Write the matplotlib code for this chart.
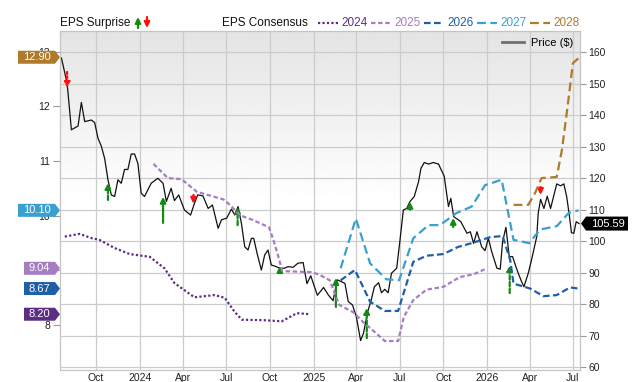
import matplotlib
matplotlib.use("Agg")
import matplotlib.pyplot as plt
import matplotlib.transforms as mtransforms
import numpy as np
import pandas as pd
from matplotlib.patches import Polygon, FancyArrowPatch
from matplotlib.lines import Line2D
from matplotlib.text import Text

plt.rcParams['font.family'] = ['Liberation Sans', 'DejaVu Sans']

# ---- price (right axis) ----
price_dates = ["2023-07-20", "2023-08-01", "2023-08-10", "2023-08-24", "2023-08-31", "2023-09-07",
               "2023-09-21", "2023-09-28", "2023-10-05", "2023-10-12", "2023-10-19", "2023-10-26",
               "2023-11-02", "2023-11-09", "2023-11-16", "2023-11-23", "2023-11-30", "2023-12-07",
               "2023-12-14", "2023-12-21", "2023-12-28", "2024-01-04", "2024-01-11", "2024-01-25",
               "2024-02-08", "2024-02-19", "2024-02-26", "2024-03-07", "2024-03-14", "2024-03-23",
               "2024-04-04", "2024-04-17", "2024-04-25", "2024-05-02", "2024-05-13", "2024-05-24",
               "2024-06-02", "2024-06-14", "2024-06-21", "2024-07-02", "2024-07-12", "2024-07-19",
               "2024-07-26", "2024-08-02", "2024-08-09", "2024-08-16", "2024-08-23", "2024-08-28",
               "2024-09-04", "2024-09-13", "2024-09-20", "2024-09-27", "2024-10-04", "2024-10-11",
               "2024-10-22", "2024-11-01", "2024-11-08", "2024-11-19", "2024-11-29", "2024-12-10",
               "2024-12-18", "2024-12-26", "2025-01-09", "2025-01-22", "2025-02-01", "2025-02-11",
               "2025-02-20", "2025-03-01", "2025-03-08", "2025-03-15", "2025-03-24", "2025-04-01",
               "2025-04-10", "2025-04-16", "2025-04-25", "2025-05-02", "2025-05-09", "2025-05-18",
               "2025-05-24", "2025-05-31", "2025-06-07", "2025-06-14", "2025-06-25", "2025-07-02",
               "2025-07-09", "2025-07-16", "2025-07-23", "2025-08-01", "2025-08-10", "2025-08-15",
               "2025-08-22", "2025-08-31", "2025-09-10", "2025-09-21", "2025-10-03", "2025-10-12",
               "2025-10-17", "2025-10-23", "2025-11-07", "2025-11-20", "2025-11-27", "2025-12-04",
               "2025-12-11", "2025-12-21", "2025-12-28", "2026-01-04", "2026-01-11", "2026-01-22",
               "2026-01-29", "2026-02-03", "2026-02-10", "2026-02-17", "2026-02-24", "2026-03-03",
               "2026-03-08", "2026-03-15", "2026-03-20", "2026-03-29", "2026-04-05", "2026-04-16",
               "2026-04-19", "2026-04-24", "2026-05-01", "2026-05-08", "2026-05-15", "2026-05-28",
               "2026-06-05", "2026-06-12", "2026-06-18", "2026-06-23", "2026-06-28", "2026-07-03",
               "2026-07-08", "2026-07-14"]
price_vals = [158.2, 150.2, 135.4, 136.6, 144.1, 138.0,
              138.5, 137.7, 132.7, 130.2, 126.3, 119.5,
              114.7, 114.2, 119.5, 118.4, 122.8, 122.8,
              127.7, 127.7, 124.7, 115.2, 114.2, 118.4,
              120.0, 118.4, 112.6, 116.8, 112.9, 114.7,
              109.9, 108.3, 112.0, 114.7, 114.4, 110.4,
              111.5, 104.1, 106.8, 107.3, 110.2, 108.3,
              111.0, 105.7, 98.2, 97.2, 100.9, 100.9,
              96.1, 90.8, 95.6, 97.2, 92.4, 92.1,
              91.4, 91.4, 91.9, 91.7, 93.0, 93.2,
              86.5, 89.0, 82.8, 85.3, 82.9, 81.1,
              87.7, 87.1, 86.6, 80.8, 79.7, 76.0,
              68.4, 70.7, 77.6, 81.1, 85.5, 86.8,
              83.6, 84.7, 83.6, 89.8, 91.4, 100.4,
              109.9, 110.4, 112.6, 114.2, 118.9, 123.1,
              125.0, 124.5, 125.0, 124.5, 120.7, 111.0,
              113.6, 107.8, 106.2, 102.5, 103.0, 99.3,
              103.0, 98.2, 97.0, 100.9, 96.7, 91.4,
              91.1, 99.8, 104.4, 95.1, 95.1, 91.9,
              89.8, 87.1, 85.5, 89.8, 94.1, 101.5,
              108.9, 113.3, 110.4, 114.3, 110.4, 118.2,
              117.6, 118.2, 114.1, 108.8, 102.7, 102.5,
              106.2, 105.59]
last_price = "105.59"

# ---- EPS consensus (left axis) ----
c2024_dates = ["2023-07-27", "2023-08-27", "2023-09-22", "2023-10-08", "2023-11-09", "2023-12-11",
               "2024-01-22", "2024-02-22", "2024-03-14", "2024-04-25", "2024-06-07", "2024-06-28",
               "2024-07-19", "2024-08-03", "2024-09-20", "2024-10-26", "2024-11-12", "2024-11-27",
               "2024-12-24"]
c2024_vals = [9.62, 9.67, 9.59, 9.56, 9.41, 9.30, 9.25, 9.04, 8.77, 8.51, 8.55, 8.50,
              8.24, 8.10, 8.09, 8.07, 8.15, 8.22, 8.20]

c2025_dates = ["2024-01-30", "2024-02-29", "2024-03-29", "2024-04-30", "2024-05-24", "2024-06-25",
               "2024-07-09", "2024-07-30", "2024-08-27", "2024-09-29", "2024-10-08", "2024-10-18",
               "2024-10-27", "2024-11-26", "2024-12-28", "2025-01-14", "2025-02-04", "2025-02-24",
               "2025-03-25", "2025-04-15", "2025-05-13", "2025-05-31", "2025-06-28", "2025-07-10",
               "2025-07-30", "2025-08-27", "2025-10-01", "2025-11-05", "2025-12-04", "2026-01-01"]
c2025_vals = [10.95, 10.69, 10.67, 10.44, 10.38, 10.30, 10.20, 10.01, 9.92, 9.79, 9.57, 9.28,
              8.99, 8.98, 8.97, 8.92, 8.82, 8.37, 8.24, 8.06, 7.85, 7.71, 7.71, 8.15,
              8.46, 8.65, 8.70, 8.88, 8.93, 9.04]

c2026_dates = ["2025-02-27", "2025-03-29", "2025-04-30", "2025-05-31", "2025-06-28", "2025-07-30",
               "2025-08-27", "2025-10-01", "2025-11-01", "2025-12-04", "2026-01-08", "2026-02-03",
               "2026-02-19", "2026-02-26", "2026-04-02", "2026-04-30", "2026-05-28", "2026-06-25",
               "2026-07-13"]
c2026_vals = [8.82, 9.01, 8.43, 8.26, 8.26, 9.16, 9.27, 9.30, 9.43, 9.51, 9.61, 9.63,
              9.19, 8.76, 8.67, 8.53, 8.55, 8.69, 8.67]

c2027_dates = ["2025-02-27", "2025-03-31", "2025-04-30", "2025-06-03", "2025-06-30", "2025-07-30",
               "2025-08-31", "2025-09-24", "2025-10-29", "2025-11-30", "2025-12-28", "2026-02-01",
               "2026-02-26", "2026-03-31", "2026-04-23", "2026-05-28", "2026-06-22", "2026-07-13"]
c2027_vals = [9.04, 9.95, 9.13, 8.84, 8.82, 9.59, 9.83, 9.83, 10.05, 10.17, 10.56, 10.66,
              9.56, 9.50, 9.75, 9.81, 10.05, 10.10]

c2028_dates = ["2026-02-26", "2026-03-29", "2026-04-12", "2026-04-26", "2026-05-28", "2026-06-08",
               "2026-06-19", "2026-07-01", "2026-07-15"]
c2028_vals = [10.20, 10.20, 10.41, 10.69, 10.71, 11.21, 11.94, 12.79, 12.90]

years = ["2024", "2025", "2026", "2027", "2028"]
year_colors = ["#5c2d82", "#a67dc1", "#1f5fa8", "#3aa0d0", "#b07a2a"]
year_styles = [(0, (1, 1)), (0, (2, 1.2)), (0, (3, 1.5)), (0, (4, 2)), (0, (4, 2))]
year_last = ["8.20", "9.04", "8.67", "10.10", "12.90"]

# ---- EPS surprise arrows (price axis): date, beat?, start, end, shaft style ----
surp_dates = ["2023-08-01", "2023-10-26", "2024-02-19", "2024-04-23", "2024-07-25", "2024-10-22",
              "2025-02-17", "2025-04-23", "2025-07-23", "2025-10-22", "2026-02-18", "2026-04-24"]
surp_beat = [False, True, True, False, True, True, True, True, True, True, True, False]
surp_start = [153.8, 113.1, 105.8, 114.7, 105.1, 89.9, 79.1, 69.2, 110.0, 104.5, 83.5, 117.2]
surp_end = [148.7, 118.5, 114.1, 111.9, 110.9, 92.1, 88.3, 78.8, 112.5, 107.4, 92.4, 114.7]
surp_dashed = [True, True, False, False, True, False, False, True, False, False, True, False]

xtick_dates = ["2023-10-01", "2024-01-01", "2024-04-01", "2024-07-01", "2024-10-01", "2025-01-01",
               "2025-04-01", "2025-07-01", "2025-10-01", "2026-01-01", "2026-04-01", "2026-07-01"]
xtick_labels = ["Oct", "2024", "Apr", "Jul", "Oct", "2025", "Apr", "Jul", "Oct", "2026", "Apr", "Jul"]
price_ticks = list(range(60, 161, 10))
eps_ticks = [8, 9, 10, 11, 12, 13]

GREEN, RED, GRID, FRAME = "#138a13", "#ff1010", "#cccccc", "#c4c4c4"

W, H = 640, 382
fig = plt.figure(figsize=(W / 100, H / 100), dpi=100)
axP = fig.add_axes([60 / W, 12 / H, 520 / W, 339 / H])
axE = axP.twinx()

# background gradient (gray at top -> white)
t = np.linspace(0, 1, 300)[:, None]
grad = np.clip(0.893 + 0.107 * t / 0.5, 0, 1)
axP.imshow(grad, extent=(0, 1, 0, 1), transform=axP.transAxes, aspect="auto",
           cmap="gray", vmin=0, vmax=1, zorder=0, interpolation="bilinear")

dt = pd.to_datetime
axP.plot(dt(price_dates), price_vals, color="#111111", lw=0.9, zorder=3)

for d, beat, a, b, dash in zip(surp_dates, surp_beat, surp_start, surp_end, surp_dashed):
    col = GREEN if beat else RED
    ls = (0, (2, 1)) if dash else "-"
    if d == "2023-08-01":
        ls = (0, (1, 1))
    axP.annotate("", xy=(dt(d), b), xytext=(dt(d), a),
                 arrowprops=dict(arrowstyle="-|>", color=col, lw=1.6, linestyle=ls,
                                 mutation_scale=8, shrinkA=0, shrinkB=0), zorder=6)

series = [(c2024_dates, c2024_vals), (c2025_dates, c2025_vals), (c2026_dates, c2026_vals),
          (c2027_dates, c2027_vals), (c2028_dates, c2028_vals)]
for (ds, vs), col, ls in zip(series, year_colors, year_styles):
    axE.plot(dt(ds), vs, color=col, lw=1.6, linestyle=ls, zorder=4)

axP.set_xlim(dt("2023-07-17"), dt("2026-07-16"))
axP.set_ylim(59.05, 166.8)
axE.set_ylim(7.18, 13.38)

axP.set_xticks(dt(xtick_dates))
axP.set_xticklabels(xtick_labels)
axP.set_yticks(price_ticks)
axE.set_yticks(eps_ticks)
axP.grid(True, color=GRID, lw=0.9)
axE.grid(False)

axP.yaxis.tick_right()
axE.yaxis.tick_left()
axP.tick_params(axis="x", length=0, pad=2.5, labelsize=7.5, labelcolor="#222222")
axP.tick_params(axis="y", length=4.5, color="#999999", pad=1.5, labelsize=7.5, labelcolor="#222222")
axE.tick_params(axis="y", length=5, color="#999999", pad=2, labelsize=7.5, labelcolor="#222222")
for ax in (axP, axE):
    for s in ax.spines.values():
        s.set_color(FRAME)

axP.legend(handles=[Line2D([], [], color="#707070", lw=2)], labels=["Price ($)"], loc="upper right",
           frameon=False, fontsize=8, handlelength=2.0, handletextpad=0.6, borderaxespad=0.25)

# value tags on the left axis
blendE = mtransforms.blended_transform_factory(axE.transAxes, axE.transData)
for val, lab, col in zip([float(v) for v in year_last], year_last, year_colors):
    w = len(lab) * 6 + 7
    T = fig.dpi_scale_trans + mtransforms.ScaledTranslation(0, val, blendE)
    pts = np.array([(-5 - w, -6.5), (-5, -6.5), (0, 0), (-5, 6.5), (-5 - w, 6.5)]) / 100
    fig.add_artist(Polygon(pts, closed=True, transform=T, facecolor=col, edgecolor="none", zorder=10))
    fig.add_artist(Text(-(5 + w / 2) / 100, 0, lab, transform=T, color="white", fontsize=8,
                        ha="center", va="center", zorder=11))

# last price tag on the right axis
blendP = mtransforms.blended_transform_factory(axP.transAxes, axP.transData)
T = fig.dpi_scale_trans + mtransforms.ScaledTranslation(1, float(last_price), blendP)
pts = np.array([(1, 0), (6, 7), (48, 7), (48, -7), (6, -7)]) / 100
fig.add_artist(Polygon(pts, closed=True, transform=T, facecolor="black", edgecolor="none", zorder=10))
fig.add_artist(Text(27.5 / 100, 0, last_price, transform=T, color="white", fontsize=8,
                    ha="center", va="center", zorder=11))

# top legend row
def fx(x): return x / W
ly = 1 - 23 / H
fig.text(fx(60), ly, "EPS Surprise", fontsize=8.5, va="center", color="#111111")
fig.add_artist(FancyArrowPatch((fx(138), 1 - 28 / H), (fx(138), 1 - 17 / H), transform=fig.transFigure,
                               arrowstyle="-|>", mutation_scale=8, color=GREEN, lw=1.6, shrinkA=0, shrinkB=0))
fig.add_artist(FancyArrowPatch((fx(147), 1 - 17 / H), (fx(147), 1 - 28 / H), transform=fig.transFigure,
                               arrowstyle="-|>", mutation_scale=8, color=RED, lw=1.6, shrinkA=0, shrinkB=0))
fig.text(fx(222), ly, "EPS Consensus", fontsize=8.5, va="center", color="#111111")
x0 = 318
for yr, col, ls in zip(years, year_colors, year_styles):
    fig.add_artist(Line2D([fx(x0), fx(x0 + 20)], [ly, ly], transform=fig.transFigure,
                          color=col, lw=1.6, linestyle=ls))
    fig.text(fx(x0 + 23), ly, yr, fontsize=8.5, va="center", color=col)
    x0 += 53

fig.savefig("out.png", dpi=100)
